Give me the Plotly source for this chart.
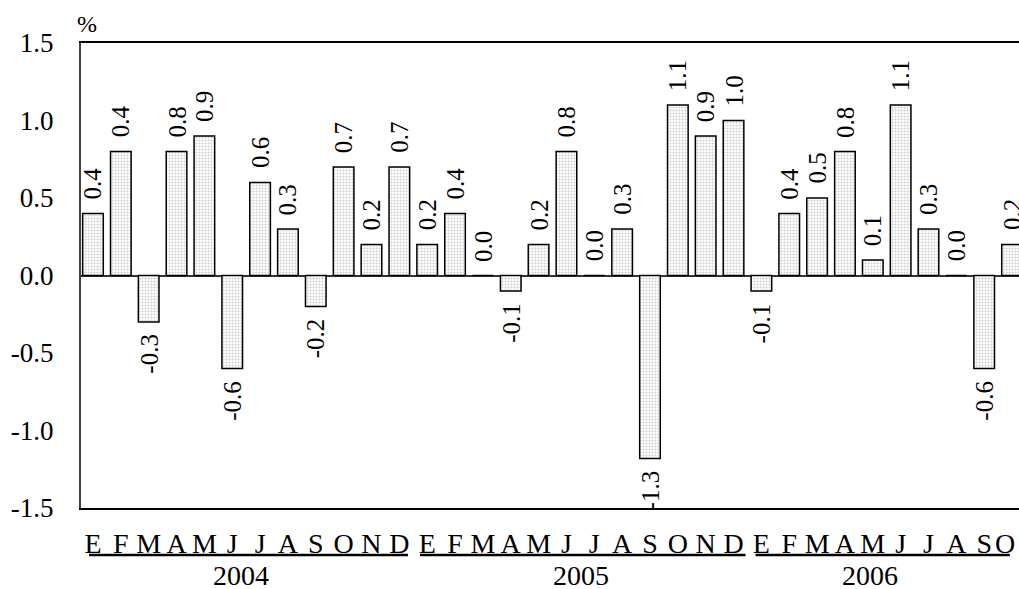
import plotly.graph_objects as go

months = ["E", "F", "M", "A", "M", "J", "J", "A", "S", "O", "N", "D",
          "E", "F", "M", "A", "M", "J", "J", "A", "S", "O", "N", "D",
          "E", "F", "M", "A", "M", "J", "J", "A", "S", "O"]
values = [0.4, 0.8, -0.3, 0.8, 0.9, -0.6, 0.6, 0.3, -0.2, 0.7, 0.2, 0.7,
          0.2, 0.4, 0.0, -0.1, 0.2, 0.8, 0.0, 0.3, -1.18, 1.1, 0.9, 1.0,
          -0.1, 0.4, 0.5, 0.8, 0.1, 1.1, 0.3, 0.0, -0.6, 0.2]
labels = ["0.4", "0.4", "-0.3", "0.8", "0.9", "-0.6", "0.6", "0.3", "-0.2", "0.7", "0.2", "0.7",
          "0.2", "0.4", "0.0", "-0.1", "0.2", "0.8", "0.0", "0.3", "-1.3", "1.1", "0.9", "1.0",
          "-0.1", "0.4", "0.5", "0.8", "0.1", "1.1", "0.3", "0.0", "-0.6", "0.2"]
years = ["2004", "2005", "2006"]
year_label_pos = [5.31, 17.54, 27.89]
year_line_start = [-0.14, 11.74, 23.79]
year_line_end = [11.31, 23.43, 32.92]
yticks = [-1.5, -1.0, -0.5, 0.0, 0.5, 1.0, 1.5]
ytick_text = ["-1.5", "-1.0", "-0.5", "0.0", "0.5", "1.0", "1.5"]

FONT = "Liberation Serif"
xpos = list(range(len(values)))

# last month letter sits slightly left of its bar in the original (kept inside the frame)
month_text = list(months)
month_text[-1] = month_text[-1] + "\u00a0\u00a0"

fig = go.Figure()
fig.add_trace(go.Bar(
    x=xpos, y=values, width=0.74,
    marker=dict(
        color="white",
        line=dict(color="black", width=1.5),
        pattern=dict(shape=".", fgcolor="#a0a0a0", bgcolor="white", size=3, solidity=0.4),
    ),
    showlegend=False,
))

annotations = []
for x, v, t in zip(xpos, values, labels):
    if v >= 0:
        annotations.append(dict(x=x, y=v, xref="x", yref="y", text=t, textangle=-90,
                                showarrow=False, yanchor="bottom", xanchor="center", yshift=12,
                                font=dict(family=FONT, size=25, color="black")))
    else:
        annotations.append(dict(x=x, y=v, xref="x", yref="y", text=t, textangle=-90,
                                showarrow=False, yanchor="top", xanchor="center", yshift=-10,
                                font=dict(family=FONT, size=25, color="black")))

for yr, xp in zip(years, year_label_pos):
    annotations.append(dict(x=xp, y=0, xref="x", yref="paper", text=yr, showarrow=False,
                            yanchor="middle", xanchor="center", yshift=-67,
                            font=dict(family=FONT, size=28, color="black")))

annotations.append(dict(x=0, y=1, xref="paper", yref="paper", text="%", showarrow=False,
                        xanchor="left", yanchor="bottom", xshift=-6, yshift=4,
                        font=dict(family=FONT, size=24, color="black")))

shapes = []
for s, e in zip(year_line_start, year_line_end):
    shapes.append(dict(type="line", xref="x", yref="paper", ysizemode="pixel", yanchor=0,
                       x0=s, x1=e, y0=-47, y1=-47, line=dict(color="black", width=2.5)))

fig.update_layout(
    width=1019, height=589,
    margin=dict(l=81, r=0, t=43, b=81, autoexpand=False),
    paper_bgcolor="white", plot_bgcolor="white",
    font=dict(family=FONT, color="black"),
    annotations=annotations, shapes=shapes,
    bargap=0.26,
)
fig.update_xaxes(
    range=[-0.43, 33.25], tickvals=xpos, ticktext=month_text, automargin=False,
    showgrid=False, zeroline=False, showline=True, mirror=True,
    linecolor="black", linewidth=1.5, ticks="", ticklabelstandoff=10,
    ticklabeloverflow="allow",
    tickfont=dict(family=FONT, size=28, color="black"),
)
fig.update_yaxes(
    range=[-1.5, 1.5], tickvals=yticks, ticktext=ytick_text, automargin=False,
    showgrid=False, zeroline=True, zerolinecolor="#333333", zerolinewidth=2,
    showline=True, linecolor="#404040", linewidth=2, ticks="", ticklabelstandoff=20,
    tickfont=dict(family=FONT, size=27, color="black"),
)

fig.write_html(
    "out.html",
    config={"displayModeBar": False},
    post_script="document.body.style.margin='0';document.body.style.overflow='hidden';",
)
